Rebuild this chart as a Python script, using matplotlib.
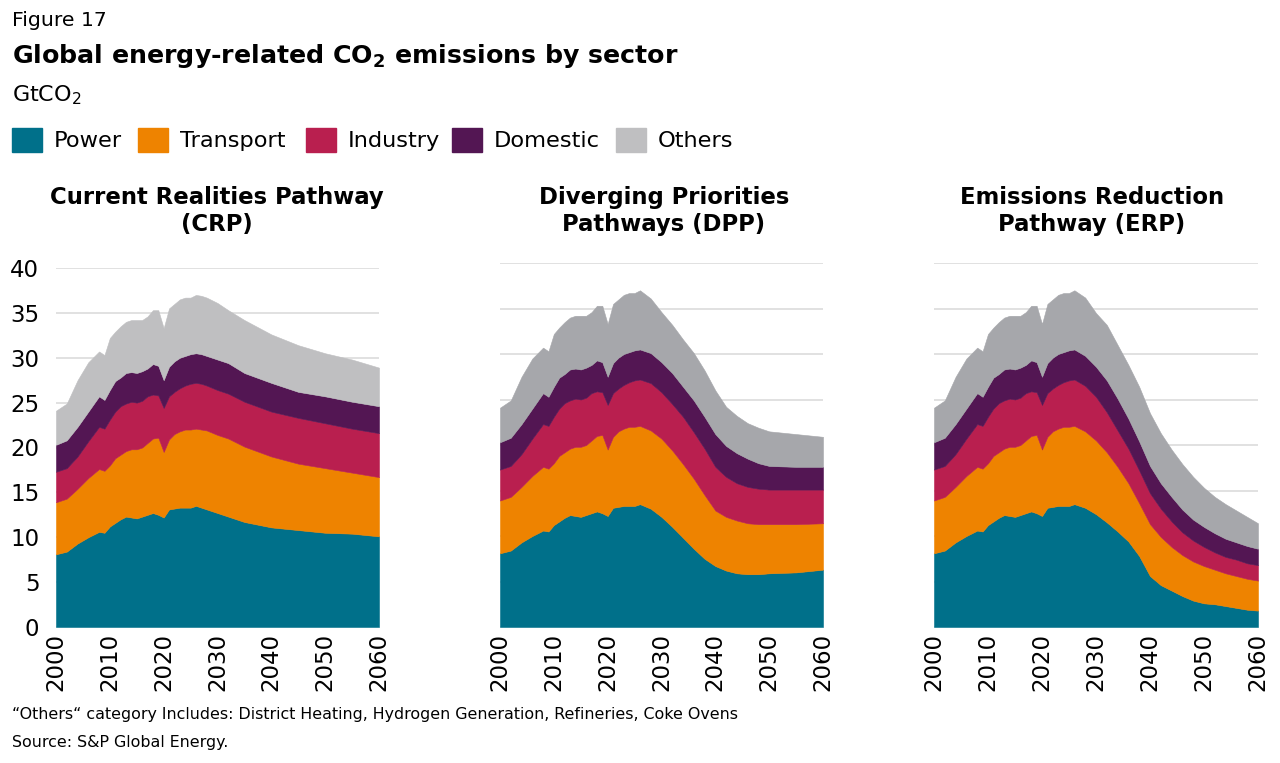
import numpy as np
import matplotlib
matplotlib.use("Agg")
import matplotlib.pyplot as plt
from matplotlib.patches import Rectangle

plt.rcParams['font.family'] = ['DejaVu Sans']

SECTORS = ['Power', 'Transport', 'Industry', 'Domestic', 'Others']
COLORS = ['#00708a', '#ee8300', '#b91f4f', '#531653', '#bfbfc1']
OTHERS_DARK = '#a6a7ab'

# history (shared by all pathways), GtCO2
hist_years = [2000, 2002, 2004, 2006, 2008, 2009, 2010, 2011, 2012, 2013, 2014, 2015,
              2016, 2017, 2018, 2019, 2020, 2021, 2022, 2023, 2024, 2025, 2026]
hist_power = [8.1, 8.4, 9.3, 10.0, 10.6, 10.5, 11.2, 11.6, 12.0, 12.3, 12.2, 12.1,
              12.3, 12.5, 12.7, 12.5, 12.2, 13.1, 13.2, 13.3, 13.3, 13.3, 13.5]
hist_transport = [5.8, 5.9, 6.1, 6.6, 7.0, 6.9, 6.8, 7.2, 7.2, 7.3, 7.6, 7.7,
                  7.7, 8.0, 8.3, 8.6, 7.3, 7.8, 8.3, 8.5, 8.7, 8.7, 8.6]
hist_industry = [3.4, 3.4, 3.6, 4.1, 4.7, 4.7, 5.1, 5.2, 5.4, 5.3, 5.3, 5.2,
                 5.2, 5.2, 4.9, 4.7, 4.9, 4.8, 4.7, 4.8, 4.9, 5.1, 5.1]
hist_domestic = [3.0, 3.1, 3.3, 3.3, 3.4, 3.2, 3.3, 3.4, 3.2, 3.4, 3.3, 3.3,
                 3.3, 3.1, 3.4, 3.3, 3.1, 3.3, 3.4, 3.4, 3.3, 3.3, 3.3]
hist_others = [3.8, 4.1, 5.2, 5.5, 5.0, 5.0, 5.8, 5.5, 5.7, 5.7, 5.8, 5.9,
               5.7, 5.8, 6.0, 6.2, 5.8, 6.5, 6.4, 6.5, 6.5, 6.3, 6.5]

# Current Realities Pathway
crp_years = [2027, 2028, 2030, 2032, 2035, 2040, 2045, 2050, 2055, 2060]
crp_power = [13.3, 13.1, 12.7, 12.3, 11.7, 11.1, 10.8, 10.5, 10.4, 10.1]
crp_transport = [8.7, 8.8, 8.7, 8.7, 8.4, 7.9, 7.4, 7.2, 6.8, 6.6]
crp_industry = [5.1, 5.0, 5.0, 5.0, 5.0, 5.0, 5.1, 5.0, 4.9, 4.9]
crp_domestic = [3.3, 3.3, 3.4, 3.4, 3.2, 3.2, 2.9, 3.0, 3.0, 3.0]
crp_others = [6.5, 6.5, 6.3, 5.9, 5.9, 5.4, 5.2, 4.8, 4.7, 4.3]

# Diverging Priorities Pathways
dpp_years = [2028, 2030, 2032, 2034, 2036, 2038, 2040, 2042, 2044, 2046, 2048, 2050, 2055, 2060]
dpp_power = [13.0, 12.1, 11.0, 9.8, 8.6, 7.5, 6.7, 6.2, 5.9, 5.8, 5.8, 5.9, 6.0, 6.3]
dpp_transport = [8.6, 8.6, 8.4, 8.1, 7.7, 7.0, 6.1, 5.9, 5.8, 5.6, 5.5, 5.4, 5.3, 5.1]
dpp_industry = [5.2, 5.1, 5.1, 5.2, 5.1, 5.1, 4.8, 4.4, 4.1, 4.0, 3.9, 3.8, 3.8, 3.7]
dpp_domestic = [3.3, 3.3, 3.4, 3.3, 3.5, 3.5, 3.6, 3.4, 3.3, 3.1, 2.8, 2.6, 2.5, 2.5]
dpp_others = [6.0, 5.5, 5.3, 5.2, 5.2, 5.1, 4.8, 4.3, 4.1, 3.9, 3.9, 3.8, 3.6, 3.3]

# Emissions Reduction Pathway
erp_years = [2028, 2030, 2032, 2034, 2036, 2038, 2040, 2042, 2044, 2046, 2048, 2050,
             2052, 2054, 2056, 2058, 2060]
erp_power = [13.1, 12.4, 11.5, 10.5, 9.4, 7.8, 5.6, 4.6, 4.0, 3.4, 2.9, 2.6,
             2.5, 2.3, 2.1, 1.9, 1.8]
erp_transport = [8.4, 8.1, 7.7, 7.1, 6.4, 5.8, 5.7, 5.3, 4.8, 4.5, 4.3, 4.1,
                 3.8, 3.6, 3.5, 3.4, 3.3]
erp_industry = [5.0, 4.8, 4.4, 4.0, 3.8, 3.6, 3.4, 3.1, 2.8, 2.5, 2.3, 2.1,
                1.9, 1.8, 1.8, 1.7, 1.7]
erp_domestic = [3.3, 3.3, 3.5, 3.5, 3.3, 3.2, 3.0, 2.8, 2.7, 2.5, 2.3, 2.2,
                2.1, 2.0, 1.9, 1.9, 1.8]
erp_others = [6.4, 5.9, 6.1, 5.9, 5.9, 6.0, 5.8, 5.5, 5.2, 5.0, 4.7, 4.3,
              4.0, 3.8, 3.5, 3.2, 2.8]

x_ticks = [2000, 2010, 2020, 2030, 2040, 2050, 2060]
y_ticks = [0, 5, 10, 15, 20, 25, 30, 35, 40]

W, H = 1280, 763


def px_axes(fig, left, top, right, bottom):
    return fig.add_axes([left / W, 1 - bottom / H, (right - left) / W, (bottom - top) / H])


def draw_panel(ax, years, series, others_color, show_y):
    x = hist_years + years
    ys = [h + p for h, p in zip(
        [hist_power, hist_transport, hist_industry, hist_domestic, hist_others], series)]
    cols = COLORS[:4] + [others_color]
    ax.stackplot(x, *ys, colors=cols, linewidth=0.4, edgecolor='face', zorder=2)
    ax.set_xlim(2000, 2060)
    ax.set_ylim(0, 40)
    ax.set_yticks(y_ticks)
    ax.set_xticks(x_ticks)
    ax.set_xticklabels([str(t) for t in x_ticks], rotation=90, fontsize=16.5)
    ax.yaxis.grid(True, color='#d9d9d9', linewidth=1.1, zorder=0)
    ax.set_axisbelow(True)
    for s in ax.spines.values():
        s.set_visible(False)
    ax.tick_params(axis='x', length=0, pad=4)
    ax.tick_params(axis='y', length=0, pad=12, labelsize=16.5)
    if not show_y:
        ax.set_yticklabels([])


fig = plt.figure(figsize=(W / 100, H / 100), dpi=100)

ax1 = px_axes(fig, 56, 268, 379, 627)
draw_panel(ax1, crp_years, [crp_power, crp_transport, crp_industry, crp_domestic, crp_others],
           COLORS[4], True)
ax2 = px_axes(fig, 500, 263, 823, 627)
draw_panel(ax2, dpp_years, [dpp_power, dpp_transport, dpp_industry, dpp_domestic, dpp_others],
           OTHERS_DARK, False)
ax3 = px_axes(fig, 934, 263, 1258, 627)
draw_panel(ax3, erp_years, [erp_power, erp_transport, erp_industry, erp_domestic, erp_others],
           OTHERS_DARK, False)

panel_titles = ['Current Realities Pathway\n(CRP)',
                'Diverging Priorities\nPathways (DPP)',
                'Emissions Reduction\nPathway (ERP)']
for cx, t in zip([217, 664, 1092], panel_titles):
    fig.text(cx / W, 1 - 211 / H, t, ha='center', va='center', fontsize=16.4,
             fontweight='bold', linespacing=1.2)

# header texts
fig.text(12 / W, 1 - 20 / H, 'Figure 17', fontsize=14.7, va='center')
fig.text(12 / W, 1 - 56 / H, r'Global energy-related CO$_\mathregular{2}$ emissions by sector',
         fontsize=18.2, fontweight='bold', va='center')
fig.text(12 / W, 1 - 95 / H, r'GtCO$_\mathregular{2}$', fontsize=16, va='center')

# legend
leg_x = [12, 138, 306, 452, 616]
for lx, name, col in zip(leg_x, SECTORS, COLORS):
    fig.patches.append(Rectangle((lx / W, 1 - 152 / H), 30 / W, 24 / H,
                                 transform=fig.transFigure, color=col))
    fig.text((lx + 42) / W, 1 - 141 / H, name, fontsize=16.2, va='center')

# footnotes
fig.text(12 / W, 1 - 714 / H,
         '\u201cOthers\u201c category Includes: District Heating, Hydrogen Generation, '
         'Refineries, Coke Ovens', fontsize=11.45, va='center')
fig.text(12 / W, 1 - 742 / H, 'Source: S&P Global Energy.', fontsize=11.45, va='center')

fig.savefig('out.png', dpi=100)
